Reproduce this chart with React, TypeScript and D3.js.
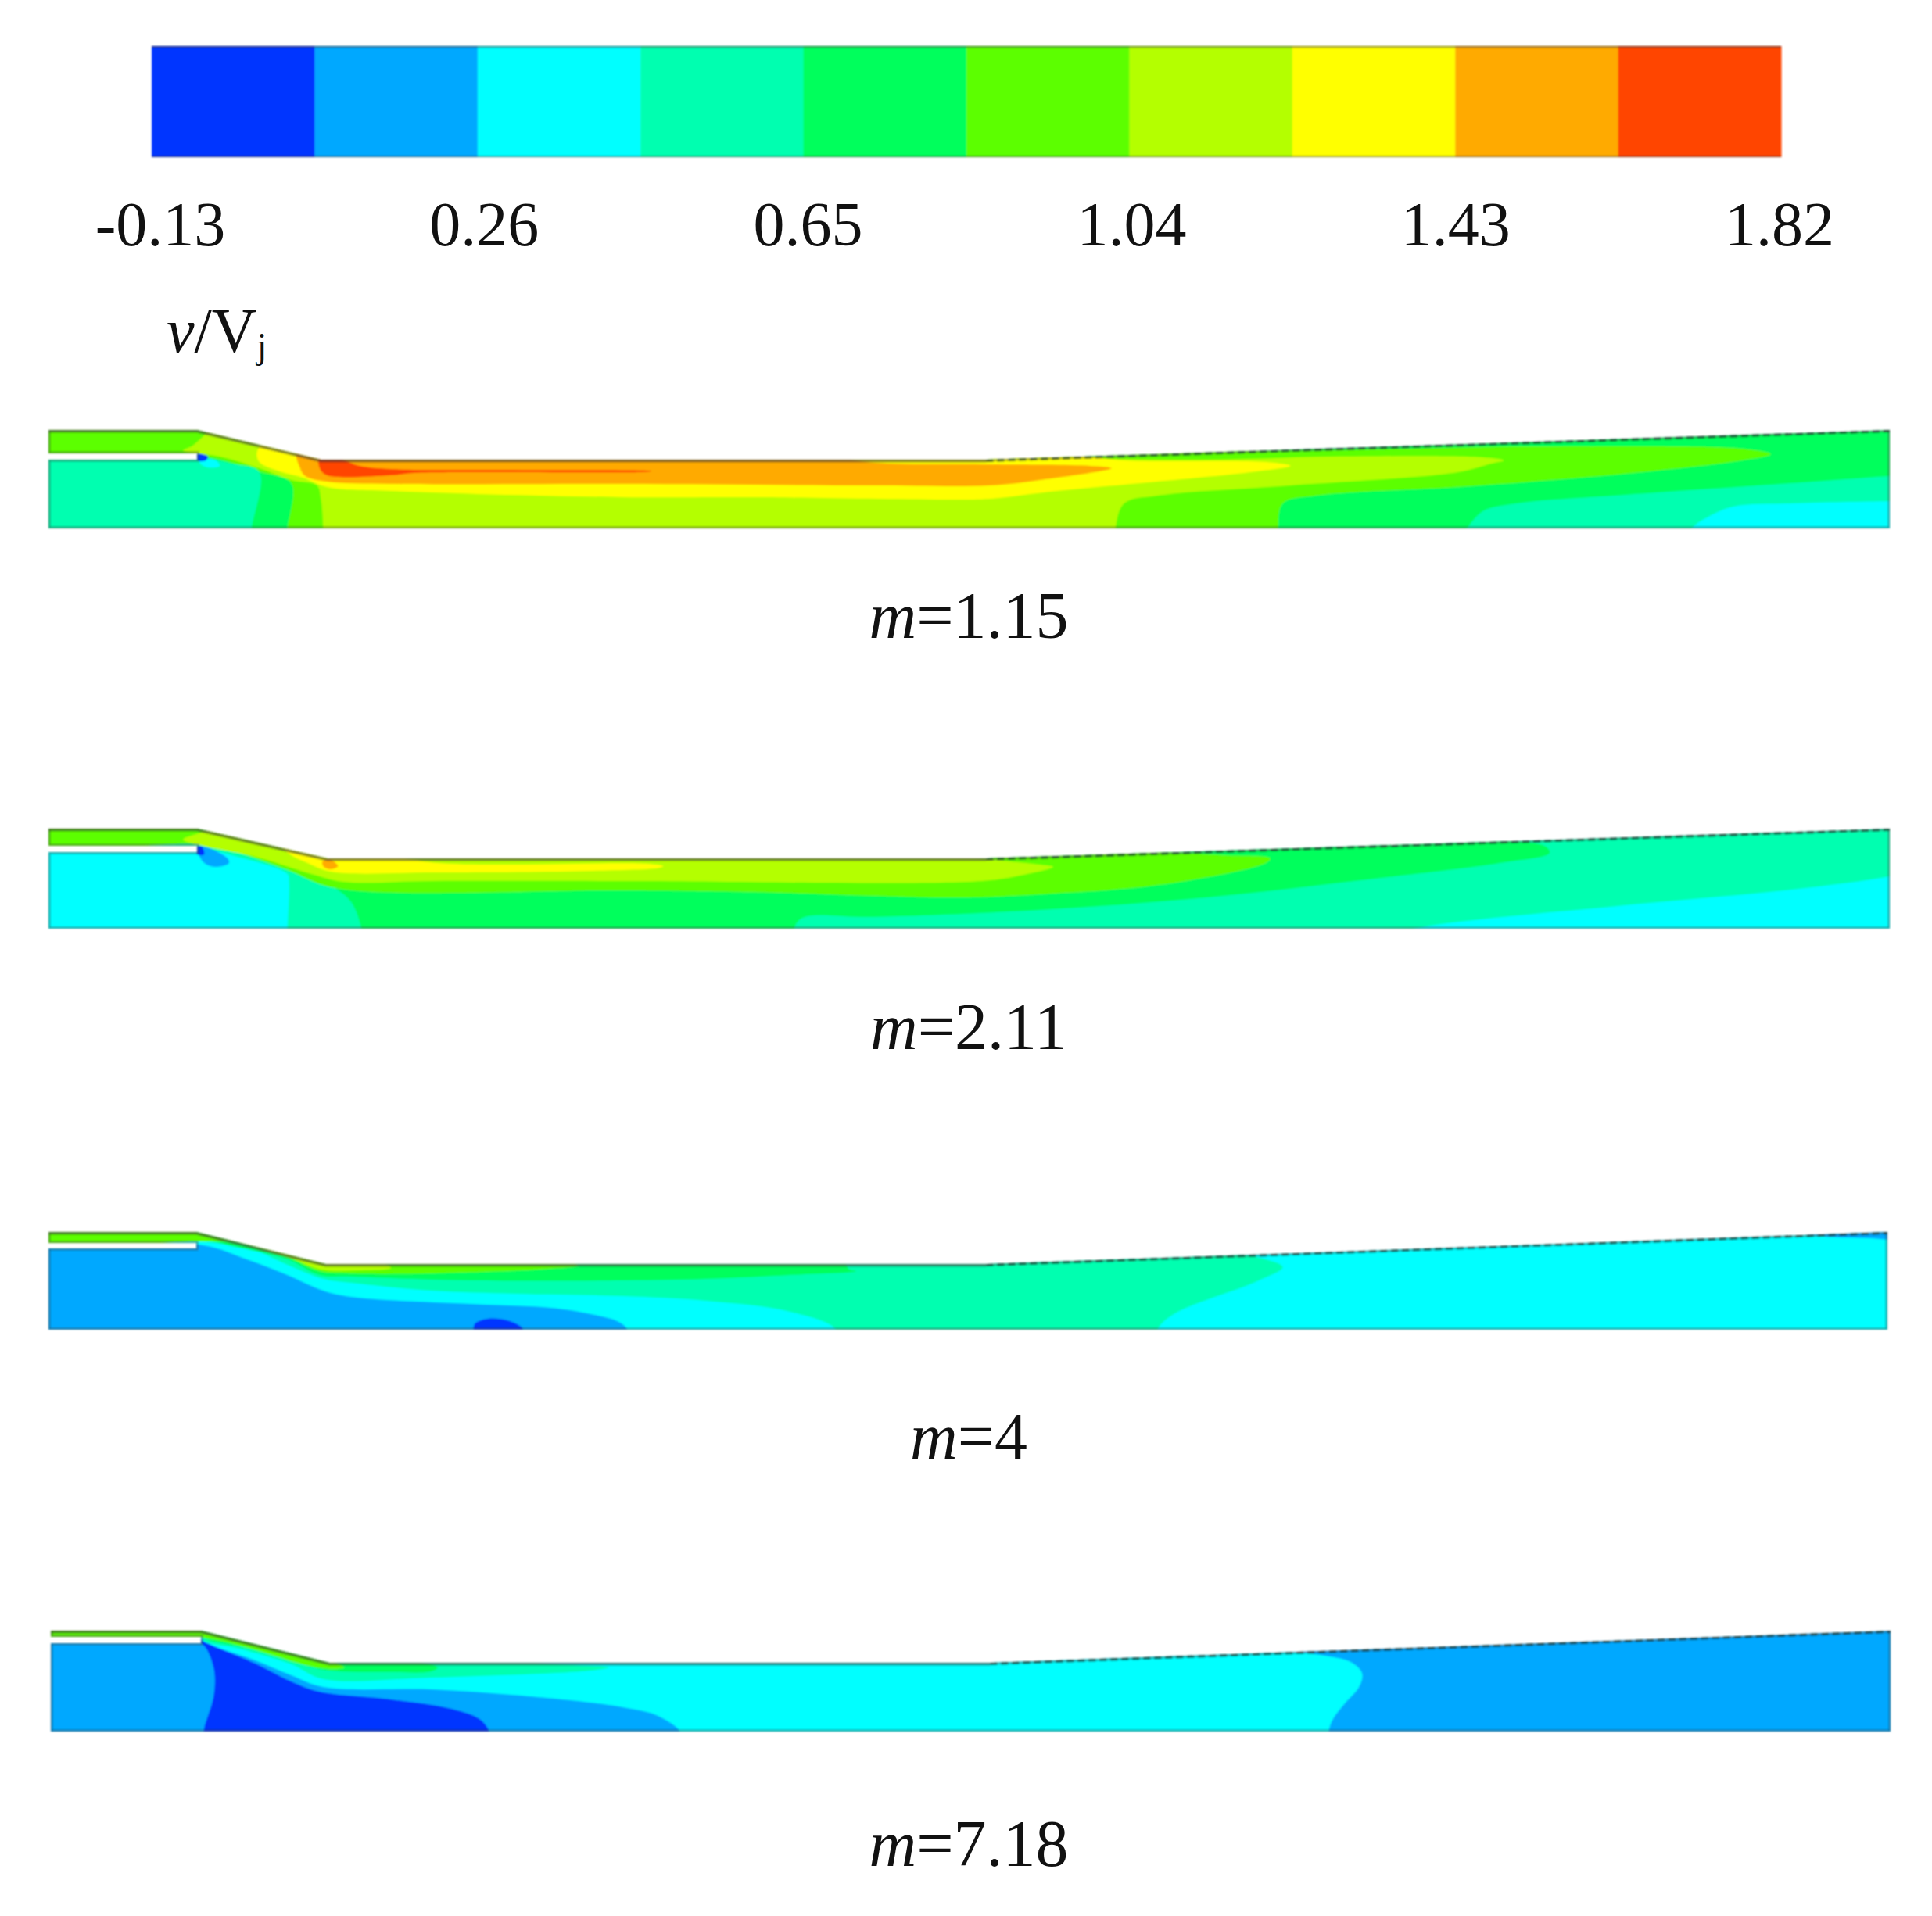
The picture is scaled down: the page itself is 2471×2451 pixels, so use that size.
import * as d3 from "d3";

// band colours of the v/Vj contour legend, lowest band first
const bandColors = ["#0036ff", "#00a8ff", "#00ffff", "#00ffb0", "#00ff5c", "#5cff00", "#b4ff00", "#ffff00", "#ffaa00", "#ff4500"];
const tickValues = [-0.13, 0.26, 0.65, 1.04, 1.43, 1.82];
const caseLabels = ["1.15", "2.11", "4", "7.18"];

type Pt = [number, number];
type Contour = [number, Pt[]];

// duct walls in axial / transverse units (x along the duct, y above the floor):
// [left, lip, throat, flatEnd, right], [top, streamLow, gapLow, throat]
const ductX115 = [0, 191, 350, 1205, 2366];
const ductY115 = [126, 96, 88, 88];
const ductX211 = [0, 191, 358, 1205, 2366];
const ductY211 = [128, 106, 98, 90];
const ductX4 = [0, 190, 356, 1205, 2363];
const ductY4 = [125, 111, 104, 84];
const ductX718 = [3, 196, 361, 1210, 2367];
const ductY718 = [129, 121, 113, 88];

const baseBand = [4, 3, 2, 1];

// m = 1.15, painted in order over the base band
const contours115: Contour[] = [
  [5, [[-20, 140], [800, 140], [1450, 100], [1918, 105], [2176, 102], [2213, 95], [2176, 87], [2026, 70], [1811, 53], [1629, 42], [1586, 32], [1580, 0], [1580, -20], [-20, -20]]],
  [3, [[1800, -20], [1822, 0], [1843, 22], [1886, 32], [2026, 43], [2240, 58], [2366, 67], [2420, 70], [2420, -20]]],
  [2, [[2100, -20], [2111, 0], [2133, 15], [2165, 28], [2240, 32], [2366, 35], [2420, 36], [2420, -20]]],
  [4, [[-40, -20], [305, -20], [307, 0], [312, 58], [273, 72], [199, 92], [60, 92], [-20, 92], [-40, 60]]],
  [3, [[-40, -20], [260, -20], [261, 0], [271, 72], [235, 83], [199, 90], [60, 90], [-20, 90], [-40, 60]]],
  [6, [[353, -20], [353, 0], [350, 38], [345, 55], [312, 62], [271, 77], [220, 92], [184, 97], [173, 100], [184, 105], [199, 118], [215, 132], [900, 110], [1267, 92], [1489, 88], [1650, 92], [1843, 91], [1870, 87], [1854, 83], [1811, 72], [1596, 55], [1425, 42], [1382, 32], [1371, 0], [1370, -20]]],
  [7, [[285, 115], [268, 98], [271, 85], [297, 73], [327, 65], [358, 53], [440, 48], [738, 40], [899, 40], [1167, 37], [1210, 38], [1296, 48], [1403, 58], [1553, 73], [1596, 80], [1564, 85], [1382, 87], [1300, 95], [700, 100], [400, 110]]],
  [8, [[320, 100], [323, 78], [330, 67], [358, 60], [440, 57], [738, 57], [1060, 55], [1210, 55], [1274, 62], [1366, 77], [1339, 80], [1200, 82], [1060, 84], [1000, 92], [500, 100]]],
  [9, [[348, 90], [349, 76], [358, 68], [440, 68], [470, 71], [570, 72], [770, 72.5], [775, 73.5], [570, 75], [440, 76], [400, 80], [370, 90]]],
  [2, [[195, 88], [215, 87], [220, 80], [205, 78], [195, 83]]],
  [0, [[191, 95], [205, 92], [202, 87], [191, 87]]],
];

// m = 2.11
const contours211: Contour[] = [
  [2, [[1680, -20], [1752, 0], [2026, 30], [2240, 50], [2366, 67], [2420, 80], [2420, -20]]],
  [4, [[402, -20], [402, 0], [389, 34], [368, 52], [338, 67], [307, 80], [261, 92], [225, 102], [194, 109], [60, 107], [-40, 106], [-40, 140], [190, 140], [1000, 140], [1875, 112], [1924, 105], [1929, 97], [1865, 84], [1704, 64], [1489, 40], [1275, 24], [1060, 15], [969, 14], [958, 0], [958, -20]]],
  [2, [[-40, -20], [306, -20], [307, 0], [309, 60], [307, 70], [235, 94], [199, 102], [60, 100], [-40, 100]]],
  [5, [[-40, 108], [191, 108], [235, 100], [307, 75], [368, 52], [738, 49], [899, 47], [1167, 40], [1275, 44], [1435, 57], [1564, 84], [1570, 90], [1510, 94], [1400, 100], [1000, 140], [-40, 140]]],
  [6, [[173, 114], [190, 121], [230, 130], [700, 120], [1060, 100], [1274, 82], [1291, 79], [1253, 69], [1199, 61], [738, 61], [492, 61], [379, 60], [338, 70], [266, 92], [194, 107]]],
  [7, [[300, 105], [312, 94], [333, 84], [363, 73], [500, 72], [700, 74], [786, 78], [790, 80], [770, 83], [500, 84], [400, 100]]],
  [8, [[352, 86], [362, 88], [372, 80], [362, 76], [353, 80]]],
  [1, [[191, 105], [199, 85], [214, 79], [232, 84], [230, 90], [204, 104]]],
  [0, [[191, 105], [197, 105], [200, 95], [191, 95]]],
];

// m = 4
const contours4: Contour[] = [
  [1, [[-40, -20], [744, -20], [744, 0], [733, 10], [697, 20], [646, 28], [543, 33], [389, 42], [353, 50], [307, 70], [255, 90], [199, 108], [60, 108], [-40, 108]]],
  [0, [[546, -5], [546, 0], [548, 8], [564, 14], [590, 12], [609, 2], [610, -5]]],
  [3, [[1425, -20], [1425, 0], [1446, 20], [1553, 62], [1586, 80], [1564, 90], [1500, 100], [1000, 140], [-40, 140], [-40, 112], [204, 112], [261, 103], [307, 83], [353, 65], [389, 60], [492, 50], [600, 46], [738, 43], [845, 37], [953, 23], [1012, 0], [1012, -20]]],
  [4, [[-40, 113], [194, 115], [235, 107], [307, 90], [348, 70], [389, 68], [543, 63], [738, 63], [845, 65], [953, 70], [1038, 75], [1028, 78], [1020, 100], [1000, 140], [-40, 140]]],
  [5, [[-40, 112], [190, 113], [235, 112], [297, 98], [348, 75], [389, 72], [492, 72], [646, 78], [680, 82], [640, 90], [400, 100], [300, 125], [-40, 135]]],
  [6, [[200, 127], [250, 110], [310, 92], [350, 77], [400, 76], [440, 79], [430, 85], [350, 95], [280, 112]]],
  [1, [[2200, 132], [2420, 135], [2420, 116], [2340, 117], [2270, 120]]],
];

// m = 7.18
const contours718: Contour[] = [
  [0, [[200, -5], [200, 4], [212, 44], [213, 77], [204, 104], [195, 116], [220, 106], [266, 87], [312, 64], [348, 51], [440, 41], [518, 29], [554, 16], [566, 1], [566, -5]]],
  [2, [[811, -5], [811, 1], [781, 21], [738, 31], [697, 37], [595, 47], [492, 54], [353, 57], [312, 72], [266, 91], [209, 111], [197, 118], [197, 140], [1000, 140], [1540, 106], [1640, 97], [1675, 88], [1688, 74], [1684, 57], [1665, 35], [1650, 15], [1645, 0], [1645, -10]]],
  [3, [[199, 117], [245, 106], [312, 86], [353, 67], [492, 69], [697, 78], [720, 82], [650, 86], [400, 110], [300, 125], [199, 130]]],
  [4, [[199, 121], [255, 107], [312, 91], [353, 79], [440, 76], [492, 77], [500, 82], [400, 100], [300, 125], [199, 132]]],
  [5, [[-40, 119], [197, 120], [260, 106], [330, 85], [365, 80], [380, 82], [340, 98], [260, 125], [-40, 135]]],
];

const ductsX = [ductX115, ductX211, ductX4, ductX718];
const ductsY = [ductY115, ductY211, ductY4, ductY718];
const contourSets = [contours115, contours211, contours4, contours718];

const W = 2471;
const H = 2451;
const floorPx = [676, 1188, 1701, 2215];
const labelPx = [816, 1342, 1866, 2387];
const serif = "'Liberation Serif', 'Times New Roman', serif";
const wallColor = "rgba(55,55,55,0.42)";

const xDuct = d3.scaleLinear().domain([0, 2366]).range([62, 2417]);
const legendX = d3.scaleBand<number>().domain(d3.range(bandColors.length)).range([194, 2278]).paddingInner(0);
const tickX = d3.scaleLinear().domain([-0.13, 1.82]).range([205, 2276]);

function Panel({ index }: { index: number }) {
  const dx = ductsX[index];
  const dy = ductsY[index];
  const y = d3.scaleLinear().domain([0, 127]).range([floorPx[index], floorPx[index] - 127]);
  const straight = d3.line<Pt>().x((d) => xDuct(d[0])).y((d) => y(d[1]));
  const smooth = d3.line<Pt>().x((d) => xDuct(d[0])).y((d) => y(d[1])).curve(d3.curveCatmullRomClosed.alpha(0.5));
  const [x0, lip, throat, flatEnd, x1] = dx;
  const [top, streamLow, gapLow, throatY] = dy;
  const outline: Pt[] = [
    [x0, top], [lip, top], [throat, throatY], [flatEnd, throatY], [x1, top], [x1, 0], [x0, 0],
    [x0, gapLow], [lip, gapLow], [lip, streamLow], [x0, streamLow],
  ];
  const solidWall: Pt[] = [[x0, top], [lip, top], [throat, throatY], [flatEnd, throatY]];
  const slopedWall: Pt[] = [[flatEnd, throatY], [x1, top]];
  const clipId = `duct-${index}`;
  return (
    <g filter="url(#soft)">
      <clipPath id={clipId}>
        <path d={straight(outline) + "Z"} />
      </clipPath>
      <g clipPath={`url(#${clipId})`}>
        <path d={straight(outline) + "Z"} fill={bandColors[baseBand[index]]} />
        {contourSets[index].map(([band, pts], i) => (
          <path key={i} d={smooth(pts) ?? ""} fill={bandColors[band]} />
        ))}
        <path d={straight(outline) + "Z"} fill="none" stroke={wallColor} strokeWidth={5} />
        <path d={straight(solidWall) ?? ""} fill="none" stroke={wallColor} strokeWidth={7} />
        <path d={straight(slopedWall) ?? ""} fill="none" stroke="rgba(20,50,40,0.75)" strokeWidth={6} strokeDasharray="9 5" />
      </g>
    </g>
  );
}

export default function App() {
  return (
    <svg width={W} height={H} viewBox={`0 0 ${W} ${H}`} style={{ position: "absolute", left: 0, top: 0, display: "block", background: "#fff" }}>
      <defs>
        <filter id="soft" x="-2%" y="-10%" width="104%" height="120%">
          <feGaussianBlur stdDeviation="1.1" />
        </filter>
      </defs>

      <g filter="url(#soft)">
        {bandColors.map((c, i) => (
          <rect key={c} x={legendX(i)} y={59} width={legendX.bandwidth() + 0.5} height={142} fill={c} />
        ))}
        <line x1={194} x2={2278} y1={60} y2={60} stroke={wallColor} strokeWidth={3} />
        <line x1={194} x2={2278} y1={200} y2={200} stroke={wallColor} strokeWidth={2} />
      </g>

      {tickValues.map((v) => (
        <text key={v} x={tickX(v)} y={314} textAnchor="middle" fontFamily={serif} fontSize={80} fill="#111">
          {v.toFixed(2)}
        </text>
      ))}

      <text x={213} y={450} fontFamily={serif} fontSize={80} fill="#111">
        <tspan fontStyle="italic">v</tspan>
        <tspan>/V</tspan>
        <tspan fontSize={46} dy={8}>j</tspan>
      </text>

      {caseLabels.map((label, i) => (
        <g key={label}>
          <Panel index={i} />
          <text x={1239} y={labelPx[i]} textAnchor="middle" fontFamily={serif} fontSize={84} fill="#111">
            <tspan fontStyle="italic">m</tspan>={label}
          </text>
        </g>
      ))}
    </svg>
  );
}
